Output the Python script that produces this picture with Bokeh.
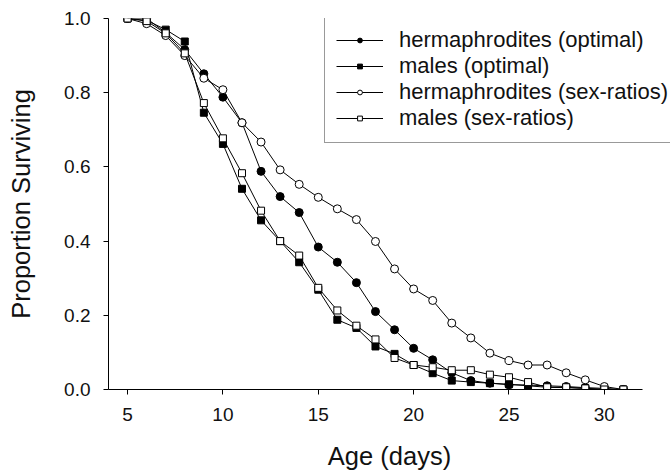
from bokeh.plotting import figure
from bokeh.models import FixedTicker, PrintfTickFormatter, Range1d
from bokeh.embed import file_html
from bokeh.resources import INLINE

# ---- data ----
age = list(range(5, 32))
herm_optimal = [1.0, 1.0, 0.962, 0.916, 0.851, 0.788, 0.719, 0.588, 0.520, 0.477, 0.384,
                0.343, 0.288, 0.210, 0.161, 0.111, 0.080, 0.045, 0.024, 0.017, 0.013,
                0.012, 0.010, 0.008, 0.005, 0.003, 0.0]
males_optimal = [1.0, 0.995, 0.970, 0.938, 0.746, 0.662, 0.541, 0.456, 0.400, 0.343, 0.269,
                 0.188, 0.166, 0.116, 0.096, 0.066, 0.044, 0.024, 0.020, 0.017, 0.014,
                 0.010, 0.006, 0.005, 0.003, 0.0, 0.0]
herm_sexratio = [1.0, 0.986, 0.954, 0.900, 0.839, 0.808, 0.719, 0.667, 0.592, 0.553, 0.518,
                 0.487, 0.458, 0.399, 0.325, 0.271, 0.240, 0.179, 0.139, 0.098, 0.078,
                 0.066, 0.066, 0.045, 0.026, 0.008, 0.0]
males_sexratio = [1.0, 0.993, 0.960, 0.906, 0.772, 0.677, 0.583, 0.482, 0.400, 0.361, 0.274,
                  0.213, 0.172, 0.135, 0.085, 0.066, 0.060, 0.052, 0.052, 0.040, 0.033,
                  0.020, 0.006, 0.006, 0.003, 0.0, 0.0]
x_ticks = [5, 10, 15, 20, 25, 30]
y_ticks = [0.0, 0.2, 0.4, 0.6, 0.8, 1.0]
labels = ["hermaphrodites (optimal)", "males (optimal)",
          "hermaphrodites (sex-ratios)", "males (sex-ratios)"]

FONT = "Liberation Sans"
TXT = "#111111"

# frame spans to the right edge so the legend can run past the end of the x axis
p = figure(width=670, height=472, output_backend="svg", toolbar_location=None,
           x_range=Range1d(4, 33.47), y_range=Range1d(0, 1))
p.min_border_left = 108
p.min_border_right = 0
p.min_border_top = 18
p.min_border_bottom = 83
p.outline_line_color = None
p.xgrid.visible = False
p.ygrid.visible = False
p.background_fill_color = "white"
p.border_fill_color = "white"

series = [
    (herm_optimal, "circle", "black", 8),
    (males_optimal, "square", "black", 7),
    (herm_sexratio, "circle", "white", 8),
    (males_sexratio, "square", "white", 7),
]
for (vals, marker, fill, size), lab in zip(series, labels):
    p.line(age, vals, line_color="black", line_width=1, legend_label=lab)
    p.scatter(age, vals, marker=marker, size=size, fill_color=fill,
              line_color="black", line_width=1, legend_label=lab)

for ax in (p.xaxis[0], p.yaxis[0]):
    ax.major_tick_out = 5
    ax.major_tick_in = 0
    ax.minor_tick_out = 0
    ax.minor_tick_in = 0
    ax.axis_line_color = "black"
    ax.major_tick_line_color = "black"
    ax.major_label_text_font = FONT
    ax.major_label_text_font_size = "19px"
    ax.major_label_text_color = TXT
    ax.axis_label_text_font = FONT
    ax.axis_label_text_font_size = "25.5px"
    ax.axis_label_text_font_style = "normal"
    ax.axis_label_text_color = TXT

p.xaxis.bounds = (4, 32)
p.xaxis.ticker = FixedTicker(ticks=x_ticks)
p.yaxis.ticker = FixedTicker(ticks=y_ticks)
p.yaxis.formatter = PrintfTickFormatter(format="%.1f")
p.xaxis.axis_label = "Age (days)"
p.yaxis.axis_label = "Proportion Surviving"
p.xaxis.major_label_standoff = 13
p.xaxis.axis_label_standoff = 18
p.yaxis.major_label_standoff = 13
p.yaxis.axis_label_standoff = 26

leg = p.legend[0]
leg.location = (216, 246)
leg.label_text_font = FONT
leg.label_text_font_size = "22px"
leg.label_text_color = TXT
leg.label_height = 26
leg.glyph_height = 12
leg.glyph_width = 47
leg.label_standoff = 16
leg.spacing = 0
leg.padding = 11
leg.margin = 0
leg.border_line_color = "#333333"
leg.border_line_width = 1
leg.background_fill_color = "white"
leg.background_fill_alpha = 1.0

open("out.html", "w").write(file_html(p, INLINE))
